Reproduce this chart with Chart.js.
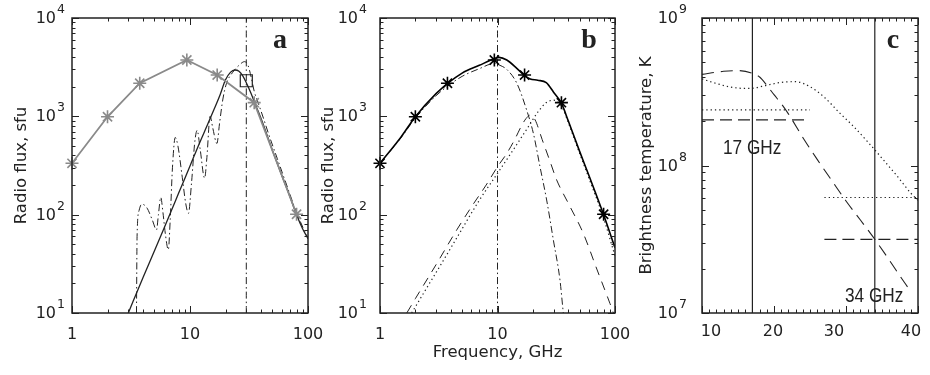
<!DOCTYPE html>
<html>
<head>
<meta charset="utf-8">
<script src="https://cdn.jsdelivr.net/npm/chart.js@4.4.0/dist/chart.umd.min.js"></script>
<style>
  html, body { margin: 0; padding: 0; background: #fff; }
  #wrap { position: relative; width: 930px; height: 375px; }
  #wrap canvas { position: absolute; left: 0; top: 0; }
</style>
</head>
<body>
<div id="wrap">
  <canvas id="panelA" width="930" height="375"></canvas>
  <canvas id="panelB" width="930" height="375"></canvas>
  <canvas id="panelC" width="930" height="375"></canvas>
</div>
<script>
// ---- observed spectrum (asterisks), GHz / sfu
const obsFreq = [1, 2, 3.75, 9.4, 17, 35, 80];
const obsFlux = [333, 990, 2170, 3740, 2630, 1377, 101];

// ---- panel a: model spectrum (solid) and harmonic model (dash-dot)
const aFitFreq = [3, 4, 5, 6, 7, 8, 10, 12, 14, 16, 18, 20, 22, 24, 26, 28, 30, 33, 36, 40, 50, 60, 70, 80, 90, 100];
const aFitFlux = [10, 23, 43, 72, 112, 165, 312, 530, 810, 1180, 1660, 2350, 2800, 2960, 2880, 2580, 2200, 1700, 1300, 950, 450, 250, 155, 100, 72, 57];
const aHarmFreq = [3.52, 3.56, 3.7, 3.9, 4.3, 4.8, 5.2, 5.4, 5.65, 5.9, 6.2, 6.55, 6.8, 7.1, 7.5, 7.9, 8.6, 9.2, 9.7, 10.3, 11, 11.5, 12.2, 13.3, 13.9, 14.8, 15.6, 16.9, 17.8, 19, 20.4, 23, 26, 29, 31, 33, 35, 38, 42, 46, 55, 65, 80, 100];
const aHarmFlux = [10, 60, 110, 128, 118, 88, 70, 100, 150, 105, 62, 44, 90, 300, 610, 500, 240, 130, 103, 210, 560, 720, 460, 235, 380, 1000, 760, 530, 850, 1500, 2170, 2800, 3300, 3600, 3300, 2500, 1800, 1350, 950, 680, 370, 210, 105, 57];
const aBoxFreq = [30];
const aBoxFlux = [2300];
const aMarkFreq = 30;

// ---- panel b: total (solid), low (dash-dot), middle (dashed), high (dotted) sources
const bTotFreq = [1, 1.5, 2, 3, 3.75, 5, 7, 9.4, 10.3, 12, 14.6, 17, 19, 22, 26, 30, 35, 40, 50, 60, 80, 100];
const bTotFlux = [333, 610, 990, 1700, 2150, 2750, 3300, 3850, 3980, 3740, 3080, 2600, 2400, 2330, 2200, 1760, 1360, 900, 440, 250, 100, 46];
const bLowFreq = [1, 1.5, 2, 3, 3.75, 5, 7, 9.4, 10.5, 12, 14.6, 17.7, 20.2, 23, 26.2, 29.9, 34, 36.3];
const bLowFlux = [333, 600, 960, 1620, 2020, 2550, 3050, 3450, 3300, 3000, 2170, 1160, 671, 307, 141, 55, 21.7, 10];
const bMidFreq = [1.69, 2, 3, 4.5, 6, 8, 10, 12, 14, 16, 17.5, 19, 20.9, 24, 28, 31.9, 40, 53.7, 70, 90.6, 97];
const bMidFlux = [10, 14, 31, 70, 120, 200, 307, 420, 580, 800, 950, 1030, 920, 580, 348, 225, 131, 64.6, 28, 12.5, 10];
const bHighFreq = [1.86, 2.5, 3.5, 4.5, 7, 10, 14, 18, 22, 26, 30, 33, 36, 40, 50, 60, 80, 100];
const bHighFlux = [10, 18, 35, 58, 140, 263, 480, 760, 1100, 1380, 1460, 1390, 1200, 870, 420, 235, 92, 38];
const bMarkFreq = 10;

// ---- panel c: brightness temperature, K
const cDashFreq = [10, 13, 15, 17, 18, 19, 20, 21, 22, 24, 26, 28, 30, 32, 34, 36, 38, 39];
const cDashTb = [4.15e8, 4.35e8, 4.4e8, 4.22e8, 3.98e8, 3.5e8, 3.02e8, 2.63e8, 2.24e8, 1.55e8, 1.1e8, 7.94e7, 5.75e7, 4.27e7, 3.16e7, 2.29e7, 1.64e7, 1.4e7];
const cDotFreq = [10, 12, 14, 16, 17, 19, 21, 23, 25, 27, 29, 31, 33, 35, 37, 39, 40];
const cDotTb = [3.86e8, 3.6e8, 3.4e8, 3.33e8, 3.34e8, 3.5e8, 3.66e8, 3.7e8, 3.42e8, 2.9e8, 2.3e8, 1.85e8, 1.45e8, 1.12e8, 8.6e7, 6.5e7, 5.8e7];
const cLowRange = [10, 25];
const cHighRange = [27, 40];
const cLevelDot = [2.38e8, 6.07e7];
const cLevelDash = [2.04e8, 3.16e7];
const cMarks = [17, 34];

// ---- tick labels
const logFreqTicks = [1, 10, 100];
const logFreqLabels = ['1', '10', '100'];
const fluxTicks = [10, 100, 1000, 10000];
const fluxExp = ['1', '2', '3', '4'];
const linFreqTicks = [10, 20, 30, 40];
const linFreqLabels = ['10', '20', '30', '40'];
const tbTicks = [1e7, 1e8, 1e9];
const tbExp = ['7', '8', '9'];

const INK = '#222';
const GREY = '#8a8a8a';
const SANS = '"DejaVu Sans", sans-serif';

function pts(xs, ys) {
  return xs.map((x, i) => ({ x: x, y: ys[i] }));
}

function logMinors(lo, hi) {
  const out = [];
  for (let d = lo; d < hi; d *= 10) {
    for (let k = 2; k <= 9; k++) out.push(d * k);
  }
  return out;
}

function vline(x, lo, hi) {
  return [{ x: x, y: lo }, { x: x, y: hi }];
}

// frame, inward ticks, labels and titles drawn around the plot box
const framePlugin = {
  id: 'frame',
  afterDraw(chart, args, o) {
    const { ctx, chartArea: a, scales: { x, y } } = chart;
    ctx.save();
    ctx.strokeStyle = INK;
    ctx.lineWidth = 1;
    ctx.beginPath();
    const tickX = (v, len) => {
      const p = Math.round(x.getPixelForValue(v)) + 0.5;
      ctx.moveTo(p, a.bottom); ctx.lineTo(p, a.bottom - len);
      ctx.moveTo(p, a.top); ctx.lineTo(p, a.top + len);
    };
    const tickY = (v, len) => {
      const p = Math.round(y.getPixelForValue(v)) + 0.5;
      ctx.moveTo(a.left, p); ctx.lineTo(a.left + len, p);
      ctx.moveTo(a.right, p); ctx.lineTo(a.right - len, p);
    };
    o.xMinor.forEach(v => tickX(v, 3.5));
    o.xMajor.forEach(v => tickX(v, 7));
    o.yMinor.forEach(v => tickY(v, 3.5));
    o.yMajor.forEach(v => tickY(v, 7));
    ctx.stroke();

    ctx.lineWidth = 1.5;
    ctx.strokeRect(a.left, a.top, a.right - a.left, a.bottom - a.top);

    ctx.fillStyle = INK;
    // x tick labels (panel c labels sit a little off their ticks in the original)
    ctx.font = '16px ' + SANS;
    ctx.textAlign = 'center';
    ctx.textBaseline = 'alphabetic';
    o.xMajor.forEach((v, i) => {
      const shift = o.xLabelShift ? o.xLabelShift[i] : 0;
      ctx.fillText(o.xLabels[i], x.getPixelForValue(v) + shift, o.xLabelBase);
    });
    // y tick labels as 10 with raised exponent
    o.yMajor.forEach((v, i) => {
      const p = y.getPixelForValue(v);
      ctx.font = '12.5px ' + SANS;
      ctx.textAlign = 'right';
      const right = a.left - o.yGap;
      const ew = ctx.measureText(o.yExp[i]).width;
      ctx.fillText(o.yExp[i], right, p - 5);
      ctx.font = '16px ' + SANS;
      ctx.fillText('10', right - ew - 1, p + 5);
    });
    // y title
    ctx.font = '16.5px ' + SANS;
    ctx.textAlign = 'center';
    ctx.save();
    ctx.translate(o.yTitleX, (a.top + a.bottom) / 2);
    ctx.rotate(-Math.PI / 2);
    ctx.fillText(o.yTitle, 0, 6);
    ctx.restore();
    // x title
    if (o.xTitle) {
      ctx.fillText(o.xTitle, (a.left + a.right) / 2, 357);
    }
    // panel letter
    ctx.font = 'bold 28px "Liberation Serif", serif';
    ctx.fillText(o.letter, o.letterX, 48);
    // extra notes
    (o.notes || []).forEach(n => {
      ctx.save();
      ctx.font = '21px "Liberation Sans", Arial, sans-serif';
      ctx.textAlign = 'left';
      ctx.translate(n.x, n.y);
      ctx.scale(0.82, 1);
      ctx.fillText(n.text, 0, 0);
      ctx.restore();
    });
    ctx.restore();
  }
};

function baseOptions(pad, xScale, yScale, frame) {
  return {
    responsive: false,
    animation: false,
    layout: { padding: pad },
    scales: { x: Object.assign({ display: false }, xScale), y: Object.assign({ display: false }, yScale) },
    plugins: { legend: { display: false }, tooltip: { enabled: false }, frame: frame },
    elements: { point: { radius: 0 } }
  };
}

function lineSet(data, opts) {
  return Object.assign({
    data: data,
    showLine: true,
    borderColor: INK,
    borderWidth: 1.2,
    pointRadius: 0,
    fill: false,
    tension: 0.35,
    cubicInterpolationMode: 'monotone'
  }, opts || {});
}

const dashDot = [7, 3, 1.5, 3];
const dotted = [1.3, 3];

// Panel a
new Chart(document.getElementById('panelA'), {
  type: 'scatter',
  data: {
    datasets: [
      lineSet(pts(obsFreq, obsFlux), {
        borderColor: GREY, borderWidth: 1.8, tension: 0, cubicInterpolationMode: 'default',
        pointStyle: 'star', pointRadius: 6.5, pointBorderColor: GREY, pointBorderWidth: 1.6, clip: false
      }),
      lineSet(pts(aBoxFreq, aBoxFlux), {
        showLine: false, pointStyle: 'rect', pointRadius: 8.5, pointBorderColor: INK,
        pointBackgroundColor: 'rgba(0,0,0,0)', pointBorderWidth: 1.2
      }),
      lineSet(pts(aFitFreq, aFitFlux), { borderWidth: 1.3 }),
      lineSet(pts(aHarmFreq, aHarmFlux), { borderDash: dashDot, borderWidth: 1, tension: 0.15 }),
      lineSet(vline(aMarkFreq, 10, 10000), { borderDash: dashDot, borderWidth: 1, tension: 0 })
    ]
  },
  options: baseOptions(
    { left: 72, right: 622, top: 18, bottom: 62 },
    { type: 'logarithmic', min: 1, max: 100 },
    { type: 'logarithmic', min: 10, max: 10000 },
    {
      xMajor: logFreqTicks, xLabels: logFreqLabels, xMinor: logMinors(1, 100), xLabelBase: 339,
      yMajor: fluxTicks, yExp: fluxExp, yMinor: logMinors(10, 10000), yGap: 7,
      yTitle: 'Radio flux, sfu', yTitleX: 20, letter: 'a', letterX: 280
    }
  ),
  plugins: [framePlugin]
});

// Panel b
new Chart(document.getElementById('panelB'), {
  type: 'scatter',
  data: {
    datasets: [
      lineSet(pts(obsFreq, obsFlux), {
        showLine: false, pointStyle: 'star', pointRadius: 6.5, pointBorderColor: '#000',
        pointBorderWidth: 1.6, clip: false
      }),
      lineSet(pts(bTotFreq, bTotFlux), { borderWidth: 1.6, borderColor: '#000' }),
      lineSet(pts(bLowFreq, bLowFlux), { borderDash: dashDot, borderWidth: 1 }),
      lineSet(pts(bMidFreq, bMidFlux), { borderDash: [9, 7], borderWidth: 1 }),
      lineSet(pts(bHighFreq, bHighFlux), { borderDash: dotted, borderWidth: 1.2 }),
      lineSet(vline(bMarkFreq, 10, 10000), { borderDash: dashDot, borderWidth: 1, tension: 0 })
    ]
  },
  options: baseOptions(
    { left: 380, right: 315, top: 18, bottom: 62 },
    { type: 'logarithmic', min: 1, max: 100 },
    { type: 'logarithmic', min: 10, max: 10000 },
    {
      xMajor: logFreqTicks, xLabels: logFreqLabels, xMinor: logMinors(1, 100), xLabelBase: 339,
      yMajor: fluxTicks, yExp: fluxExp, yMinor: logMinors(10, 10000), yGap: 13,
      yTitle: 'Radio flux, sfu', yTitleX: 327, xTitle: 'Frequency, GHz', letter: 'b', letterX: 589
    }
  ),
  plugins: [framePlugin]
});

// Panel c
const cMinorX = [];
for (let f = 11; f < 40; f++) if (f % 10 !== 0) cMinorX.push(f);

new Chart(document.getElementById('panelC'), {
  type: 'scatter',
  data: {
    datasets: [
      lineSet(vline(cMarks[0], 1e7, 1e9), { borderWidth: 1.2, tension: 0 }),
      lineSet(vline(cMarks[1], 1e7, 1e9), { borderWidth: 1.2, tension: 0 }),
      lineSet(pts(cDashFreq, cDashTb), { borderDash: [12, 7], borderWidth: 1.1 }),
      lineSet(pts(cDotFreq, cDotTb), { borderDash: dotted, borderWidth: 1.2 }),
      lineSet(pts(cLowRange, [cLevelDot[0], cLevelDot[0]]), { borderDash: dotted, borderWidth: 1.2, tension: 0 }),
      lineSet(pts(cLowRange, [cLevelDash[0], cLevelDash[0]]), { borderDash: [12, 6], borderWidth: 1.2, tension: 0 }),
      lineSet(pts(cHighRange, [cLevelDot[1], cLevelDot[1]]), { borderDash: dotted, borderWidth: 1.2, tension: 0 }),
      lineSet(pts(cHighRange, [cLevelDash[1], cLevelDash[1]]), { borderDash: [12, 6], borderWidth: 1.2, tension: 0 })
    ]
  },
  options: baseOptions(
    { left: 702, right: 12, top: 18, bottom: 62 },
    { type: 'linear', min: 10, max: 40 },
    { type: 'logarithmic', min: 1e7, max: 1e9 },
    {
      xMajor: linFreqTicks, xLabels: linFreqLabels, xLabelShift: [9, -1, -12, -7], xMinor: cMinorX, xLabelBase: 336,
      yMajor: tbTicks, yExp: tbExp, yMinor: logMinors(1e7, 1e9), yGap: 15,
      yTitle: 'Brightness temperature, K', yTitleX: 645, letter: 'c', letterX: 893,
      notes: [{ text: '17 GHz', x: 723, y: 154 }, { text: '34 GHz', x: 845, y: 302 }]
    }
  ),
  plugins: [framePlugin]
});
</script>
</body>
</html>
